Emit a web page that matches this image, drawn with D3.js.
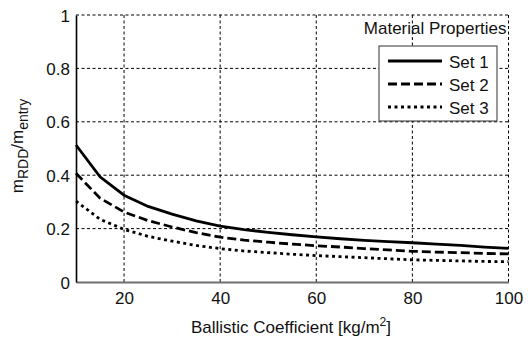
<!DOCTYPE html>
<html>
<head>
<meta charset="utf-8">
<script src="https://cdn.jsdelivr.net/npm/d3@7"></script>
<style>
  html, body { margin: 0; padding: 0; background: #fff; }
  svg { display: block; font-family: Arial, "Liberation Sans", sans-serif; }
</style>
</head>
<body>
<svg id="chart" width="528" height="339"></svg>
<script>
// Ballistic coefficient samples [kg/m^2]
const ballisticCoeff = [10, 15, 20, 25, 30, 35, 40, 45, 50, 55, 60, 65, 70, 75, 80, 85, 90, 95, 100];

// Mass ratio m_RDD / m_entry for each material property set
const set1 = [0.513, 0.394, 0.325, 0.283, 0.254, 0.229, 0.209, 0.196, 0.186, 0.177, 0.169, 0.162, 0.156, 0.151, 0.147, 0.142, 0.137, 0.131, 0.126];
const set2 = [0.407, 0.314, 0.262, 0.230, 0.206, 0.185, 0.168, 0.157, 0.149, 0.142, 0.136, 0.131, 0.125, 0.120, 0.115, 0.112, 0.110, 0.107, 0.105];
const set3 = [0.303, 0.235, 0.197, 0.171, 0.153, 0.137, 0.125, 0.116, 0.110, 0.104, 0.099, 0.095, 0.091, 0.087, 0.083, 0.081, 0.079, 0.077, 0.076];

const seriesNames = ["Set 1", "Set 2", "Set 3"];
const xTicks = [20, 40, 60, 80, 100];
const yTicks = [0, 0.2, 0.4, 0.6, 0.8, 1];
const xLabel = "Ballistic Coefficient [kg/m";
const legendTitle = "Material Properties";

const series = [set1, set2, set3];
const dashes = [null, "9,4", "3,3.5"];

const svg = d3.select("#chart");
const plotL = 76, plotR = 508.5, plotT = 15, plotB = 282;

const x = d3.scaleLinear().domain([10, 100]).range([plotL, plotR]);
const y = d3.scaleLinear().domain([0, 1]).range([plotB, plotT]);

const fs = 17;

// dotted grid
const grid = svg.append("g").attr("stroke", "#000").attr("stroke-width", 1).attr("stroke-dasharray", "3,2.5");
grid.selectAll("line.v").data(xTicks).join("line")
  .attr("x1", d => x(d)).attr("x2", d => x(d))
  .attr("y1", plotT).attr("y2", plotB);
grid.selectAll("line.h").data(yTicks.filter(d => d > 0)).join("line")
  .attr("x1", plotL).attr("x2", plotR)
  .attr("y1", d => y(d)).attr("y2", d => y(d));

// axes
const xAxis = svg.append("g").attr("transform", `translate(0,${plotB})`)
  .call(d3.axisBottom(x).tickValues(xTicks).tickSize(0).tickPadding(0).tickFormat(d3.format("d")));
xAxis.select(".domain").attr("stroke", "#6e6e6e").attr("stroke-width", 2);
xAxis.selectAll("text").attr("font-size", fs).attr("fill", "#111")
  .attr("font-family", "Arial, 'Liberation Sans', sans-serif")
  .attr("dy", null).attr("y", 21.5);

const yAxis = svg.append("g").attr("transform", `translate(${plotL},0)`)
  .call(d3.axisLeft(y).tickValues(yTicks).tickSize(0).tickPadding(6).tickFormat(d => d3.format("")(d)));
yAxis.select(".domain").attr("stroke", "#000").attr("stroke-width", 1.6);
yAxis.selectAll("text").attr("font-size", fs).attr("fill", "#111")
  .attr("font-family", "Arial, 'Liberation Sans', sans-serif")
  .attr("dy", "0.36em");

// curves
const line = d3.line().x((d, i) => x(ballisticCoeff[i])).y(d => y(d));
series.forEach((s, k) => {
  svg.append("path").datum(s)
    .attr("fill", "none").attr("stroke", "#000")
    .attr("stroke-width", 2.8)
    .attr("stroke-dasharray", dashes[k])
    .attr("d", line);
});

// axis titles
const xt = svg.append("text").attr("x", 291).attr("y", 333)
  .attr("text-anchor", "middle").attr("font-size", fs).attr("fill", "#111");
xt.append("tspan").text(xLabel);
xt.append("tspan").attr("font-size", 12).attr("dy", -7).text("2");
xt.append("tspan").attr("dy", 7).text("]");

const yt = svg.append("text").attr("transform", "translate(23,146) rotate(-90)")
  .attr("text-anchor", "middle").attr("font-size", fs).attr("fill", "#111");
yt.append("tspan").text("m");
yt.append("tspan").attr("font-size", 14).attr("dy", 5).text("RDD");
yt.append("tspan").attr("dy", -5).text("/m");
yt.append("tspan").attr("font-size", 14).attr("dy", 5).text("entry");

// legend
svg.append("text").attr("x", 506.5).attr("y", 34)
  .attr("text-anchor", "end").attr("font-size", fs).attr("fill", "#111")
  .text(legendTitle);

const lg = svg.append("g");
lg.append("rect").attr("x", 379).attr("y", 46).attr("width", 118).attr("height", 75)
  .attr("fill", "#fff").attr("stroke", "#333").attr("stroke-width", 1);
seriesNames.forEach((name, k) => {
  const ly = 61 + k * 23;
  lg.append("line").attr("x1", 388).attr("x2", 442).attr("y1", ly).attr("y2", ly)
    .attr("stroke", "#000").attr("stroke-width", 2.8).attr("stroke-dasharray", dashes[k]);
  lg.append("text").attr("x", 449).attr("y", ly + 6.5)
    .attr("font-size", fs).attr("fill", "#111").text(name);
});
</script>
</body>
</html>
